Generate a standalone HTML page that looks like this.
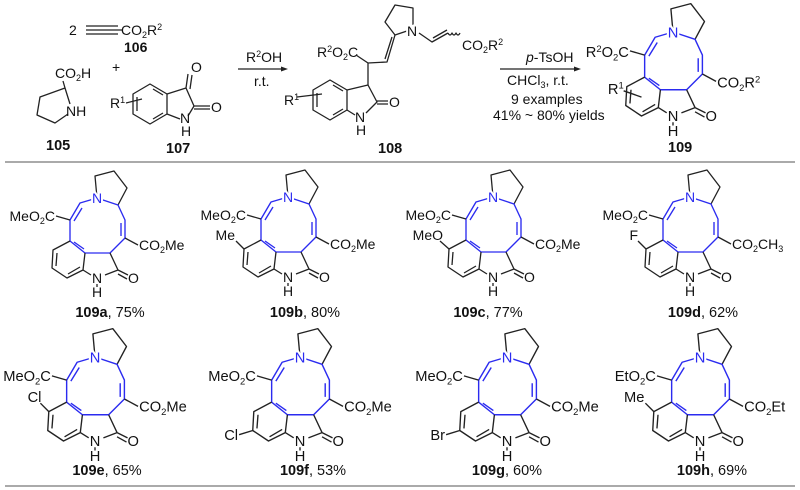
<!DOCTYPE html>
<html><head><meta charset="utf-8"><style>
html,body{margin:0;padding:0;background:#fff;}
svg{display:block;font-family:"Liberation Sans",Arial,sans-serif;}
text{font-size:14px;fill:#111;}
.w{stroke:#fff;stroke-width:4;paint-order:stroke;}
.b{font-weight:bold;}
.lb{font-size:14.5px;}
.bk{stroke:#222;stroke-width:1.3;fill:none;stroke-linejoin:round;}
.bl{stroke:#2b2bf0;stroke-width:1.35;fill:none;stroke-linejoin:round;}
</style></head><body>
<svg width="800" height="490" viewBox="0 0 800 490" xmlns="http://www.w3.org/2000/svg">
<defs>
<g id="sk">
 <path class="bk" d="M0,0 L-2,-22 L17,-27 L30,-10 L21,7"/>
 <path class="bl" d="M0,0 L-17,5 L-27,22 L-27,43 L-12,55 L13,55 L28,40 L28,22 L21,7 Z"/>
 <path class="bl" d="M-15,10 L-23,23 M-23,44 L-13,51 M24,25 L24,38"/>
 <path class="bk" d="M-12,55 L-14,72 L-30,80 L-45,70 L-44,52 L-27,43 M-17,69 L-29,76 M-41,68 L-40,55"/>
 <path class="bk" d="M13,55 L21,72 L8,77 M-14,72 L-6,77 M21,72 L31,77 M21,76 L30,81"/>
 <path class="bk" d="M-27,22 L-41,18 M28,40 L41,47 M0,86 L0,89"/>
</g>
</defs>

<!-- top reagents -->
<text x="69" y="35">2</text>
<path class="bk" d="M86,26 L118,26 M86,30 L118,30 M86,34 L118,34 M118,30 L122,30" stroke-width="1.1"/>
<text x="121" y="35">CO<tspan font-size="9" dy="3">2</tspan><tspan dy="-3">R</tspan><tspan font-size="9" dy="-5">2</tspan></text>
<text x="124" y="52" class="b">106</text>

<text x="55" y="78">CO<tspan font-size="9" dy="3">2</tspan><tspan dy="-3">H</tspan></text>
<path class="bk" d="M63,81 L65,88 L40,97 L37,115 L55,123 L68,114 M65,88 L70,104"/>
<text x="66" y="116">NH</text>
<text x="46" y="150" class="b lb">105</text>

<text x="112" y="72">+</text>
<path class="bk" d="M150,84 L167,94 L167,114 L150,124 L133,114 L133,94 Z M153,89 L163,95 M163,113 L153,119 M137,97 L137,111"/>
<path class="bk" d="M167,94 L186,88 L194,106 L188,116 M167,114 L180,119 M186,88 L188,74 M190,89 L192,75 M194,106 L210,106 M194,109 L210,109 M126,103 L142,99"/>
<text x="191" y="72">O</text>
<text x="211" y="112">O</text>
<text x="110" y="108">R<tspan font-size="9" dy="-5">1</tspan></text>
<text x="180" y="123">N</text>
<text x="181" y="136">H</text>
<text x="166" y="153" class="b lb">107</text>

<!-- arrow 1 -->
<path class="bk" d="M238,69 L284,69"/><path d="M288,69 L281,66.5 L281,71.5 Z" fill="#222"/>
<text x="246" y="62">R<tspan font-size="9" dy="-5">2</tspan><tspan dy="5">OH</tspan></text>
<text x="254" y="86">r.t.</text>

<!-- 108 -->
<text x="317" y="57">R<tspan font-size="9" dy="-5">2</tspan><tspan dy="5">O</tspan><tspan font-size="9" dy="3">2</tspan><tspan dy="-3">C</tspan></text>
<path class="bk" d="M356,55 L368,63 L387,62 L395,35 M385,59 L392,37 M368,63 L368,85"/>
<path class="bk" d="M395,35 L385,22 L395,5 L413,8 L413,25 M395,35 L407,31"/>
<text x="407" y="36" class="w">N</text>
<path class="bk" d="M419,33 L432,42 L448,33 M433,38 L447,30 M448,33 q2,4 4,0 q2,4 4,0 q2,4 4,0"/>
<text x="462" y="50">CO<tspan font-size="9" dy="3">2</tspan><tspan dy="-3">R</tspan><tspan font-size="9" dy="-5">2</tspan></text>
<path class="bk" d="M330,80 L347,90 L347,110 L330,120 L313,110 L313,90 Z M333,85 L343,91 M343,109 L333,115 M317,93 L317,107"/>
<path class="bk" d="M347,90 L368,85 L377,102 L366,113 M347,110 L355,115 M377,101 L388,101 M377,104 L388,104 M297,97 L322,94"/>
<text x="389" y="107">O</text>
<text x="284" y="105">R<tspan font-size="9" dy="-5">1</tspan></text>
<text x="355" y="122">N</text>
<text x="356" y="135">H</text>
<text x="378" y="153" class="b lb">108</text>

<!-- arrow 2 -->
<path class="bk" d="M500,69 L577,69"/><path d="M581,69 L574,66.5 L574,71.5 Z" fill="#222"/>
<text x="526" y="62"><tspan font-style="italic">p</tspan>-TsOH</text>
<text x="507" y="85">CHCl<tspan font-size="9" dy="3">3</tspan><tspan dy="-3">, r.t.</tspan></text>
<text x="511" y="104">9 examples</text>
<text x="493" y="120">41% ~ 80% yields</text>

<!-- 109 -->
<g transform="translate(673,32) scale(1.05)">
 <use href="#sk"/>
 <path class="bk" d="M-47,56 L-30,62"/>
 <text x="-42" y="24" text-anchor="end">R<tspan font-size="9" dy="-5">2</tspan><tspan dy="5">O</tspan><tspan font-size="9" dy="3">2</tspan><tspan dy="-3">C</tspan></text>
 <text x="42" y="53">CO<tspan font-size="9" dy="3">2</tspan><tspan dy="-3">R</tspan><tspan font-size="9" dy="-5">2</tspan></text>
 <text x="-62" y="59">R<tspan font-size="9" dy="-5">1</tspan></text>
 <text x="0" y="5" text-anchor="middle" class="w" style="fill:#2b2bf0">N</text>
 <text x="0" y="85" text-anchor="middle">N</text><text x="0" y="99" text-anchor="middle">H</text>
 <text x="31" y="85">O</text>
</g>
<text x="668" y="152" class="b lb">109</text>

<line x1="5" y1="162" x2="795" y2="162" stroke="#777" stroke-width="1.2"/>

<!-- row 1 -->
<g transform="translate(97,198)">
 <use href="#sk"/>
 <text x="-42" y="23" text-anchor="end">MeO<tspan font-size="9" dy="3">2</tspan><tspan dy="-3">C</tspan></text>
 <text x="42" y="52">CO<tspan font-size="9" dy="3">2</tspan><tspan dy="-3">Me</tspan></text>
 <text x="0" y="5" text-anchor="middle" class="w" style="fill:#2b2bf0">N</text>
 <text x="0" y="85" text-anchor="middle">N</text><text x="0" y="99" text-anchor="middle">H</text><text x="31" y="85">O</text>
</g>
<text x="110" y="317" text-anchor="middle" class="lb"><tspan class="b">109a</tspan>, 75%</text>

<g transform="translate(288,197)">
 <use href="#sk"/>
 <path class="bk" d="M-44,52 L-52,44"/>
 <text x="-42" y="23" text-anchor="end">MeO<tspan font-size="9" dy="3">2</tspan><tspan dy="-3">C</tspan></text>
 <text x="-53" y="43" text-anchor="end">Me</text>
 <text x="42" y="52">CO<tspan font-size="9" dy="3">2</tspan><tspan dy="-3">Me</tspan></text>
 <text x="0" y="5" text-anchor="middle" class="w" style="fill:#2b2bf0">N</text>
 <text x="0" y="85" text-anchor="middle">N</text><text x="0" y="99" text-anchor="middle">H</text><text x="31" y="85">O</text>
</g>
<text x="305" y="317" text-anchor="middle" class="lb"><tspan class="b">109b</tspan>, 80%</text>

<g transform="translate(493,197)">
 <use href="#sk"/>
 <path class="bk" d="M-44,52 L-53,44"/>
 <text x="-42" y="23" text-anchor="end">MeO<tspan font-size="9" dy="3">2</tspan><tspan dy="-3">C</tspan></text>
 <text x="-50" y="43" text-anchor="end">MeO</text>
 <text x="42" y="52">CO<tspan font-size="9" dy="3">2</tspan><tspan dy="-3">Me</tspan></text>
 <text x="0" y="5" text-anchor="middle" class="w" style="fill:#2b2bf0">N</text>
 <text x="0" y="85" text-anchor="middle">N</text><text x="0" y="99" text-anchor="middle">H</text><text x="31" y="85">O</text>
</g>
<text x="488" y="317" text-anchor="middle" class="lb"><tspan class="b">109c</tspan>, 77%</text>

<g transform="translate(690,197)">
 <use href="#sk"/>
 <path class="bk" d="M-44,52 L-52,44"/>
 <text x="-42" y="23" text-anchor="end">MeO<tspan font-size="9" dy="3">2</tspan><tspan dy="-3">C</tspan></text>
 <text x="-52" y="43" text-anchor="end">F</text>
 <text x="42" y="52">CO<tspan font-size="9" dy="3">2</tspan><tspan dy="-3">CH</tspan><tspan font-size="9" dy="3">3</tspan></text>
 <text x="0" y="5" text-anchor="middle" class="w" style="fill:#2b2bf0">N</text>
 <text x="0" y="85" text-anchor="middle">N</text><text x="0" y="99" text-anchor="middle">H</text><text x="31" y="85">O</text>
</g>
<text x="703" y="317" text-anchor="middle" class="lb"><tspan class="b">109d</tspan>, 62%</text>

<!-- row 2 -->
<g transform="translate(95,357) scale(1.05)">
 <use href="#sk"/>
 <path class="bk" d="M-44,52 L-52,44"/>
 <text x="-42" y="23" text-anchor="end">MeO<tspan font-size="9" dy="3">2</tspan><tspan dy="-3">C</tspan></text>
 <text x="-51" y="43" text-anchor="end">Cl</text>
 <text x="42" y="52">CO<tspan font-size="9" dy="3">2</tspan><tspan dy="-3">Me</tspan></text>
 <text x="0" y="5" text-anchor="middle" class="w" style="fill:#2b2bf0">N</text>
 <text x="0" y="85" text-anchor="middle">N</text><text x="0" y="99" text-anchor="middle">H</text><text x="31" y="85">O</text>
</g>
<text x="107" y="475" text-anchor="middle" class="lb"><tspan class="b">109e</tspan>, 65%</text>

<g transform="translate(300,357) scale(1.05)">
 <use href="#sk"/>
 <path class="bk" d="M-45,70 L-58,74"/>
 <text x="-42" y="23" text-anchor="end">MeO<tspan font-size="9" dy="3">2</tspan><tspan dy="-3">C</tspan></text>
 <text x="-59" y="79" text-anchor="end">Cl</text>
 <text x="42" y="52">CO<tspan font-size="9" dy="3">2</tspan><tspan dy="-3">Me</tspan></text>
 <text x="0" y="5" text-anchor="middle" class="w" style="fill:#2b2bf0">N</text>
 <text x="0" y="85" text-anchor="middle">N</text><text x="0" y="99" text-anchor="middle">H</text><text x="31" y="85">O</text>
</g>
<text x="313" y="475" text-anchor="middle" class="lb"><tspan class="b">109f</tspan>, 53%</text>

<g transform="translate(507,357) scale(1.05)">
 <use href="#sk"/>
 <path class="bk" d="M-45,70 L-58,74"/>
 <text x="-42" y="23" text-anchor="end">MeO<tspan font-size="9" dy="3">2</tspan><tspan dy="-3">C</tspan></text>
 <text x="-59" y="79" text-anchor="end">Br</text>
 <text x="42" y="52">CO<tspan font-size="9" dy="3">2</tspan><tspan dy="-3">Me</tspan></text>
 <text x="0" y="5" text-anchor="middle" class="w" style="fill:#2b2bf0">N</text>
 <text x="0" y="85" text-anchor="middle">N</text><text x="0" y="99" text-anchor="middle">H</text><text x="31" y="85">O</text>
</g>
<text x="507" y="475" text-anchor="middle" class="lb"><tspan class="b">109g</tspan>, 60%</text>

<g transform="translate(700,357) scale(1.05)">
 <use href="#sk"/>
 <path class="bk" d="M-44,52 L-52,44"/>
 <text x="-42" y="23" text-anchor="end">EtO<tspan font-size="9" dy="3">2</tspan><tspan dy="-3">C</tspan></text>
 <text x="-53" y="43" text-anchor="end">Me</text>
 <text x="42" y="52">CO<tspan font-size="9" dy="3">2</tspan><tspan dy="-3">Et</tspan></text>
 <text x="0" y="5" text-anchor="middle" class="w" style="fill:#2b2bf0">N</text>
 <text x="0" y="85" text-anchor="middle">N</text><text x="0" y="99" text-anchor="middle">H</text><text x="31" y="85">O</text>
</g>
<text x="712" y="475" text-anchor="middle" class="lb"><tspan class="b">109h</tspan>, 69%</text>

<line x1="5" y1="486" x2="795" y2="486" stroke="#777" stroke-width="1.2"/>
</svg>
</body></html>
